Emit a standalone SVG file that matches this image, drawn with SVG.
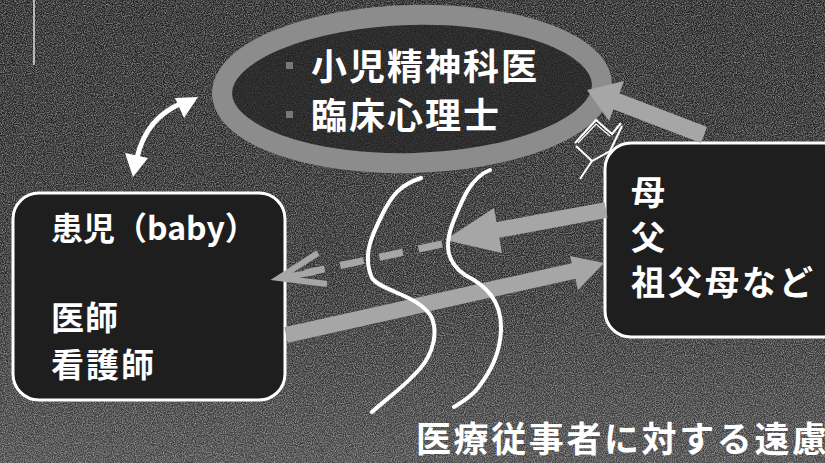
<svg xmlns="http://www.w3.org/2000/svg" width="825" height="463" viewBox="0 0 825 463">
  <defs>
    <linearGradient id="bg" x1="0" y1="0" x2="0" y2="1">
      <stop offset="0" stop-color="#222222"/>
      <stop offset="0.6" stop-color="#2a2a2a"/>
      <stop offset="1" stop-color="#434343"/>
    </linearGradient>
    <filter id="noise" x="0" y="0" width="100%" height="100%">
      <feTurbulence type="fractalNoise" baseFrequency="0.9" numOctaves="2" seed="3"/>
      <feColorMatrix type="matrix" values="0 0 0 0 1  0 0 0 0 1  0 0 0 0 1  0 0 0 0.9 -0.3"/>
    </filter>
  </defs>
  <style>
    .txt { font-family: "Noto Sans CJK JP", "Noto Sans", sans-serif; fill: #ffffff; font-weight: 700; }
    .box { fill: #1e1e1e; stroke: #ffffff; stroke-width: 3; }
    .garrow { fill: #a6a6a6; }
    .gline { stroke: #a6a6a6; fill: none; }
    .wave { stroke: #ffffff; stroke-width: 4; fill: none; stroke-linecap: round; stroke-linejoin: round; }
  </style>

  <rect x="0" y="0" width="825" height="463" fill="url(#bg)"/>
  <rect x="0" y="0" width="825" height="463" filter="url(#noise)"/>
  <line x1="34" y1="0" x2="34" y2="65" stroke="#dddddd" stroke-width="1.5"/>

  <g id="specialists">
    <ellipse cx="412" cy="89" rx="190" ry="74" fill="#232323" fill-opacity="0.7" stroke="#8c8c8c" stroke-width="20" transform="rotate(-1.5 412 89)"/>
    <rect x="286" y="62" width="7" height="7" fill="#777777"/>
    <rect x="286" y="111" width="7" height="7" fill="#777777"/>
    <text class="txt" x="311" y="80" font-size="36" letter-spacing="2">小児精神科医</text>
    <text class="txt" x="311" y="129" font-size="36" letter-spacing="2">臨床心理士</text>
  </g>

  <g id="patient">
    <rect class="box" x="13" y="193" width="272" height="207" rx="26"/>
    <text class="txt" x="51" y="240" font-size="32">患児（baby）</text>
    <text class="txt" x="51" y="330" font-size="33" letter-spacing="1">医師</text>
    <text class="txt" x="51" y="377" font-size="33" letter-spacing="2">看護師</text>
  </g>

  <g id="family">
    <rect class="box" x="605" y="143" width="250" height="194" rx="26"/>
    <text class="txt" x="631" y="205" font-size="34">母</text>
    <text class="txt" x="631" y="250" font-size="34">父</text>
    <text class="txt" x="631" y="295" font-size="34" letter-spacing="3">祖父母など</text>
  </g>

  <g id="connectors">
    <path d="M137,158 Q146,118 182,103" stroke="#ffffff" stroke-width="5" fill="none"/>
    <polygon points="198,97 175,98 184,118" fill="#ffffff"/>
    <polygon points="133,177 125,153 148,158" fill="#ffffff"/>

    <line class="gline" x1="704" y1="135" x2="613" y2="100" stroke-width="17"/>
    <polygon class="garrow" points="587,90 624,81 609,121"/>

    <path d="M575,143 L596,120 L612,134 L621,123 M576,146 L592,161 L610,151 L622,126 M592,161 L580,179" stroke="#ffffff" stroke-width="2" fill="none" stroke-linejoin="miter"/>
    <path d="M578,143 L596,124 L610,136" stroke="#ffffff" stroke-width="1.2" fill="none"/>

    <line class="gline" x1="606" y1="210" x2="492" y2="231" stroke-width="16"/>
    <polygon class="garrow" points="445,240 494,208 502,253"/>
    <line class="gline" x1="442" y1="244" x2="305" y2="273" stroke-width="7" stroke-dasharray="24,16"/>
    <path d="M318,253 L279,278 L327,284 M279,278 L315,272" class="gline" stroke-width="6" stroke-linejoin="miter"/>

    <line class="gline" x1="286" y1="335" x2="578" y2="270" stroke-width="16"/>
    <polygon class="garrow" points="604,263 570,256 578,290"/>

    <path class="wave" d="M421,178 C400,185 392,195 382,215 C372,235 362,255 372,278 C382,292 420,295 432,318 C440,340 428,362 414,375 C400,390 385,400 372,412"/>
    <path class="wave" d="M490,170 C470,178 462,200 452,225 C445,245 446,262 465,275 C485,285 502,300 501,330 C500,355 490,372 478,388 C470,398 462,402 454,407"/>
  </g>

  <g id="caption">
    <text class="txt" x="416" y="452" font-size="35" letter-spacing="2.6">医療従事者に対する遠慮</text>
  </g>
</svg>
